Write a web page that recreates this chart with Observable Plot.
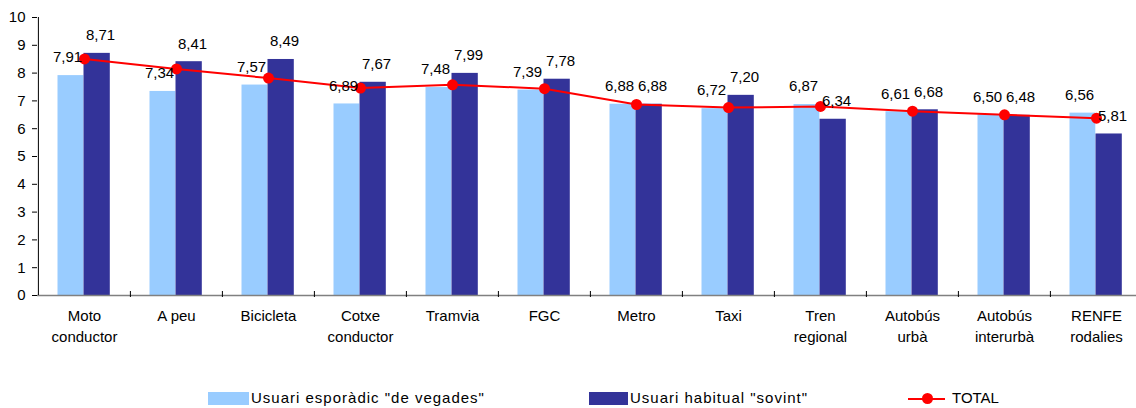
<!DOCTYPE html>
<html><head><meta charset="utf-8">
<script src="https://cdn.jsdelivr.net/npm/d3@7"></script>
<script src="https://cdn.jsdelivr.net/npm/@observablehq/plot@0.6"></script>
<style>
body{margin:0;background:#fff;font-family:"Liberation Sans",Arial,sans-serif;}
#wrap{position:relative;width:1136px;height:408px;overflow:hidden;background:#fff;}
#chart{position:absolute;left:0;top:0;}
.leg{position:absolute;top:388px;height:20px;display:flex;align-items:center;font-size:15px;line-height:20px;color:#000;white-space:nowrap;}
.sw{display:inline-block;width:41px;height:13px;margin-right:2px;}
.ln{position:relative;display:inline-block;width:37px;height:13px;margin-right:7px;}
.ln:before{content:"";position:absolute;left:0;right:0;top:6px;height:2px;background:#ff0000;}
.ln:after{content:"";position:absolute;left:14px;top:1.5px;width:11px;height:11px;border-radius:50%;background:#ff0000;}
.sp{letter-spacing:1px;}
</style></head><body>
<div id="wrap"><div id="chart"></div>
<div class="leg" style="left:208px"><span class="sw" style="background:#99CCFF"></span><span id="l0" class="sp"></span></div>
<div class="leg" style="left:589px"><span class="sw" style="background:#333399;width:39px"></span><span id="l1" class="sp"></span></div>
<div class="leg" style="left:908px"><span class="ln"></span><span id="l2"></span></div>
</div>
<script>
const categories = ["Moto conductor","A peu","Bicicleta","Cotxe conductor","Tramvia","FGC","Metro","Taxi","Tren regional","Autobús urbà","Autobús interurbà","RENFE rodalies"];
const tickLabels = ["Moto\nconductor","A peu","Bicicleta","Cotxe\nconductor","Tramvia","FGC","Metro","Taxi","Tren\nregional","Autobús\nurbà","Autobús\ninterurbà","RENFE\nrodalies"];
const sporadic = [7.91,7.34,7.57,6.89,7.48,7.39,6.88,6.72,6.87,6.61,6.50,6.56];
const habitual = [8.71,8.41,8.49,7.67,7.99,7.78,6.88,7.20,6.34,6.68,6.48,5.81];
const total = [8.51,8.15,7.82,7.46,7.58,7.44,6.87,6.76,6.80,6.63,6.50,6.38];
const seriesNames = ['Usuari esporàdic "de vegades"','Usuari habitual "sovint"','TOTAL'];
const yTicks = [0,1,2,3,4,5,6,7,8,9,10];

const rows = categories.map((c,i)=>({cat:c, s:sporadic[i], h:habitual[i], t:total[i]}));
const fmt = v => v.toFixed(2).replace(".", ",");
const half = 46.1;

const chart = Plot.plot({
  width: 1136, height: 360,
  marginTop: 17, marginBottom: 65, marginLeft: 37, marginRight: 0,
  style: {fontFamily: '"Liberation Sans", Arial, sans-serif', fontSize: "15px", background: "white", color: "#000"},
  x: {domain: categories, range: [37, 1143.4], padding: 0},
  y: {domain: [0, 10]},
  marks: [
    Plot.barY(rows, {x: "cat", y: "s", fill: "#99CCFF", insetLeft: 19.5, insetRight: 46.7}),
    Plot.barY(rows, {x: "cat", y: "h", fill: "#333399", insetLeft: 45.5, insetRight: 20.2}),
    Plot.ruleY([0], {stroke: "#808080", strokeWidth: 1.5}),
    Plot.ruleX([categories[0]], {x: d => d, dx: -half, y1: 0, y2: 10, stroke: "#000"}),
    Plot.ruleX(categories.slice(1), {x: d => d, dx: -half, y1: 0, y2: 0, insetTop: -4, insetBottom: -2, stroke: "#000"}),
    Plot.axisY({ticks: yTicks, tickSize: 5, tickPadding: 7, fontSize: 15, label: null, tickFormat: d => String(d)}),
    Plot.axisX({tickSize: 0, tickPadding: 11, fontSize: 15, lineHeight: 1.4, label: null, tickFormat: d => tickLabels[categories.indexOf(d)]}),
    Plot.line(rows, {x: "cat", y: "t", stroke: "#ff0000", strokeWidth: 2}),
    Plot.dot(rows, {x: "cat", y: "t", r: 5.5, fill: "#ff0000", stroke: "none"}),
    Plot.text(rows, {x: "cat", y: "s", text: d => fmt(d.s), dx: -17, dy: -18, fontSize: 15, fill: "#000"}),
    Plot.text(rows, {x: "cat", y: "h", text: d => fmt(d.h), dx: 16, dy: -18, fontSize: 15, fill: "#000"})
  ]
});
document.getElementById("chart").appendChild(chart);
document.getElementById("l0").textContent = seriesNames[0];
document.getElementById("l1").textContent = seriesNames[1];
document.getElementById("l2").textContent = seriesNames[2];
</script>
</body></html>
